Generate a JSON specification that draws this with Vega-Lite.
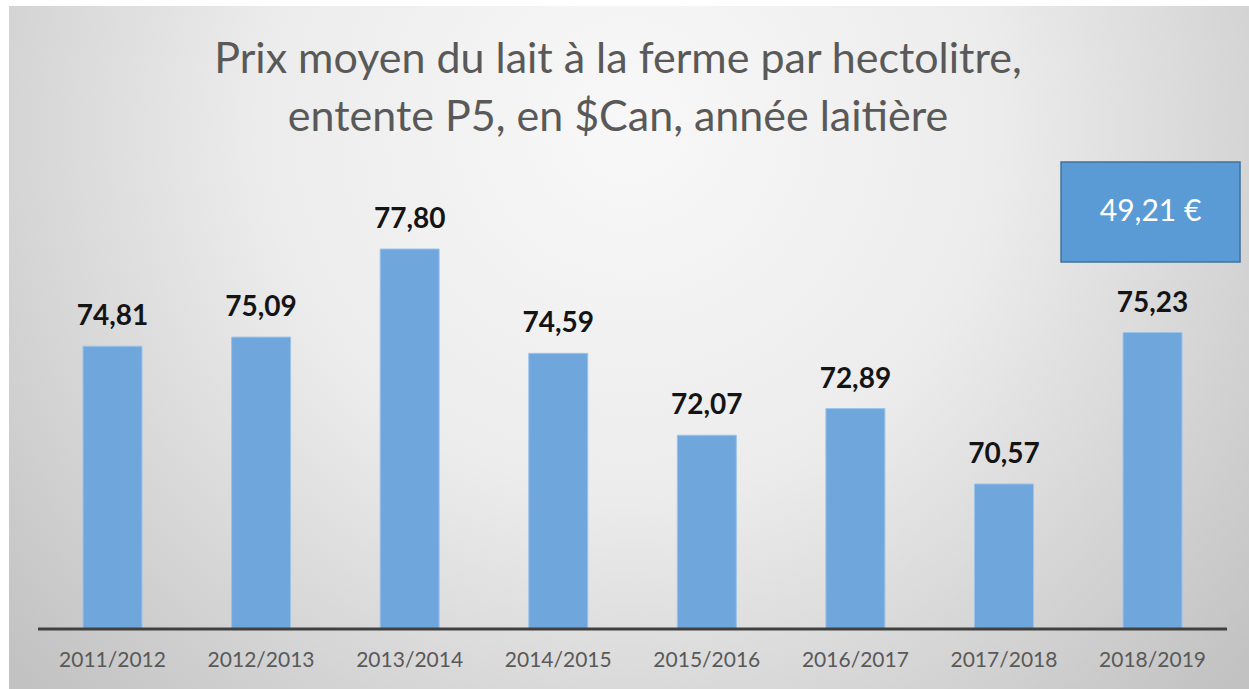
{
  "$schema": "https://vega.github.io/schema/vega-lite/v6.json",
  "width": 1240,
  "height": 683,
  "autosize": "none",
  "padding": {"left": 9, "top": 6, "right": 0, "bottom": 0},
  "background": "white",
  "view": {
    "stroke": null,
    "fill": {
      "gradient": "radial",
      "x1": 0.5, "y1": 0.32, "r1": 0,
      "x2": 0.5, "y2": 0.32, "r2": 0.66,
      "stops": [
        {"offset": 0, "color": "#f8f8f8"},
        {"offset": 0.45, "color": "#ececec"},
        {"offset": 1, "color": "#c2c2c2"}
      ]
    }
  },
  "title": {
    "text": ["Prix moyen du lait à la ferme par hectolitre,", "entente P5, en $Can, année laitière"],
    "font": "Lato",
    "fontSize": 43,
    "fontWeight": "normal",
    "color": "#595959",
    "lineHeight": 58,
    "anchor": "middle",
    "offset": -134,
    "dx": -11
  },
  "data": {
    "values": [
      {"period": "2011/2012", "price": 74.81},
      {"period": "2012/2013", "price": 75.09},
      {"period": "2013/2014", "price": 77.80},
      {"period": "2014/2015", "price": 74.59},
      {"period": "2015/2016", "price": 72.07},
      {"period": "2016/2017", "price": 72.89},
      {"period": "2017/2018", "price": 70.57},
      {"period": "2018/2019", "price": 75.23}
    ]
  },
  "encoding": {
    "x": {
      "field": "period",
      "type": "nominal",
      "sort": null,
      "scale": {"paddingInner": 0.603, "paddingOuter": 0.4745, "align": 0.525},
      "axis": {
        "orient": "bottom",
        "offset": -60,
        "domain": false,
        "ticks": false,
        "grid": false,
        "title": null,
        "labelAngle": 0,
        "labelFont": "Lato",
        "labelFontSize": 21,
        "labelColor": "#595959",
        "labelBaseline": "middle",
        "labelPadding": 31
      }
    }
  },
  "layer": [
    {
      "mark": {"type": "bar", "color": "#6fa6db", "stroke": "#9cc3ea", "strokeWidth": 1},
      "encoding": {
        "y": {
          "field": "price",
          "type": "quantitative",
          "scale": {"domain": [64.262, 85.278], "nice": false, "zero": false},
          "axis": null
        },
        "y2": {"datum": 66.108}
      }
    },
    {
      "mark": {"type": "text", "font": "Lato", "fontSize": 28, "fontWeight": "bold", "color": "#141414", "baseline": "alphabetic", "dy": -21},
      "encoding": {
        "y": {"field": "price", "type": "quantitative"},
        "text": {"field": "price", "type": "quantitative", "format": ".2f"}
      }
    },
    {
      "data": {"values": [{"line": "base"}]},
      "mark": {"type": "rule", "color": "#404040", "strokeWidth": 3},
      "encoding": {
        "x": {"datum": "2011/2012", "type": "nominal", "bandPosition": -0.763},
        "x2": {"datum": "2018/2019", "bandPosition": 1.763},
        "y": {"datum": 66.108, "type": "quantitative"}
      }
    },
    {
      "data": {"values": [{"period": "2018/2019", "top": 80.478, "bottom": 77.401, "mid": 78.94, "label": "49,21 €"}]},
      "layer": [
        {
          "mark": {"type": "bar", "width": 179, "xOffset": -2, "color": "#5b9bd5", "stroke": "#41719c", "strokeWidth": 1.5},
          "encoding": {
            "y": {"field": "top", "type": "quantitative"},
            "y2": {"field": "bottom"}
          }
        },
        {
          "mark": {"type": "text", "font": "Lato", "fontSize": 30, "color": "white", "baseline": "middle", "xOffset": -2},
          "encoding": {
            "y": {"field": "mid", "type": "quantitative"},
            "text": {"field": "label", "type": "nominal"}
          }
        }
      ]
    }
  ],
  "config": {
    "locale": {
      "number": {"decimal": ",", "thousands": " ", "grouping": [3], "currency": ["", " €"]}
    }
  }
}
